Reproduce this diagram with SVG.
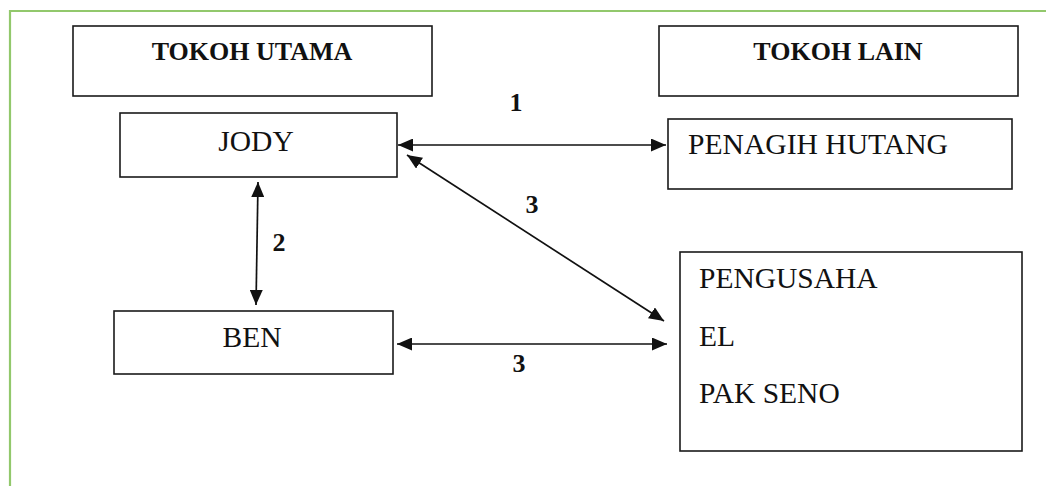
<svg xmlns="http://www.w3.org/2000/svg" width="1046" height="486" viewBox="0 0 1046 486">
<style>
.box{fill:#fff;stroke:#1a1a1a;stroke-width:1.6}
.t{font-family:"Liberation Serif","Times New Roman",serif;fill:#111}
.h{font-size:26px;font-weight:bold}
.n{font-size:29.5px}
.num{font-size:26px;font-weight:bold}
.c{stroke:#111;stroke-width:1.7;fill:none;marker-start:url(#ah);marker-end:url(#ah)}
</style>
<defs>
<marker id="ah" viewBox="0 0 15 13" refX="15" refY="6.5" markerWidth="15" markerHeight="13" markerUnits="userSpaceOnUse" orient="auto-start-reverse">
<path d="M0,0 L15,6.5 L0,13 z" fill="#111"/>
</marker>
</defs>
<rect width="1046" height="486" fill="#fff"/>
<path d="M10,486 V11 H1046" fill="none" stroke="#92c86c" stroke-width="2.2"/>
<g id="tokoh-utama">
<rect class="box" x="73" y="26" width="359" height="70"/>
<text class="t h" x="252" y="60" text-anchor="middle">TOKOH UTAMA</text>
</g>
<g id="tokoh-lain">
<rect class="box" x="659" y="26" width="359" height="70"/>
<text class="t h" x="838" y="60" text-anchor="middle">TOKOH LAIN</text>
</g>
<g id="jody">
<rect class="box" x="120" y="113" width="277" height="64"/>
<text class="t n" x="256" y="151" text-anchor="middle">JODY</text>
</g>
<g id="ben">
<rect class="box" x="114" y="311" width="279" height="63"/>
<text class="t n" x="252" y="347" text-anchor="middle">BEN</text>
</g>
<g id="penagih">
<rect class="box" x="668" y="119" width="344" height="70"/>
<text class="t n" x="688" y="154" textLength="260" lengthAdjust="spacingAndGlyphs">PENAGIH HUTANG</text>
</g>
<g id="pengusaha">
<rect class="box" x="680" y="252" width="342" height="199"/>
<text class="t n" x="699" y="288">PENGUSAHA</text>
<text class="t n" x="699" y="346">EL</text>
<text class="t n" x="699" y="403">PAK SENO</text>
</g>
<g id="connectors">
<line class="c" x1="398" y1="145" x2="666" y2="145"/>
<line class="c" x1="407" y1="155" x2="664" y2="321"/>
<line class="c" x1="258" y1="182" x2="256" y2="305"/>
<line class="c" x1="397" y1="344" x2="667" y2="344"/>
<text class="t num" x="516" y="111" text-anchor="middle">1</text>
<text class="t num" x="532" y="213" text-anchor="middle">3</text>
<text class="t num" x="279" y="251" text-anchor="middle">2</text>
<text class="t num" x="519" y="372" text-anchor="middle">3</text>
</g>
</svg>
